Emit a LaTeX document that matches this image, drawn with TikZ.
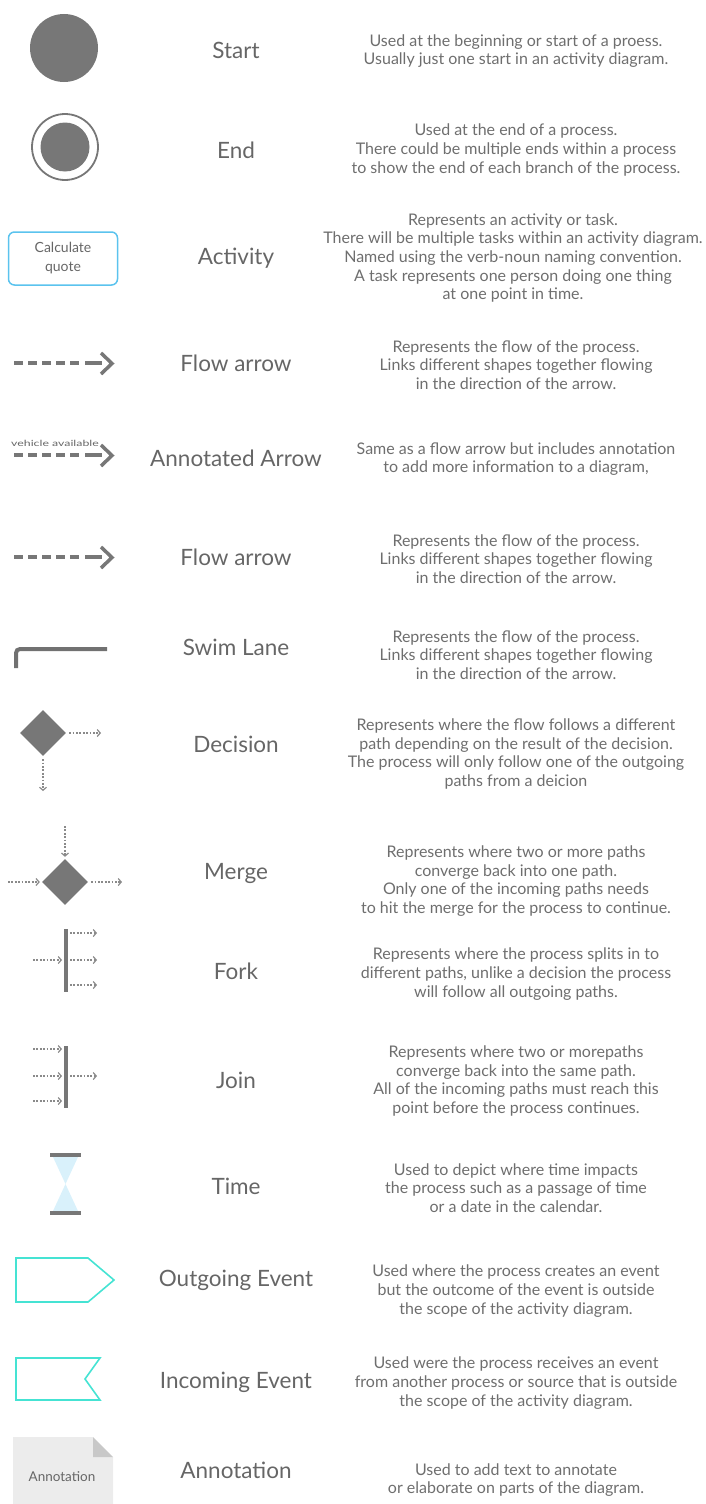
\documentclass[tikz,border=0pt]{standalone}
\usepackage{fontspec}
\usepackage{graphicx}
\setmainfont{Lato}
\usetikzlibrary{arrows.meta,shapes.geometric}
\definecolor{ink}{HTML}{777777}
\definecolor{dots}{HTML}{8A8A8A}
\definecolor{txt}{HTML}{666666}
\definecolor{dtxt}{HTML}{6E6E6E}
\definecolor{actblue}{HTML}{5BC3EE}
\definecolor{evt}{HTML}{45E3D3}
\definecolor{sand}{HTML}{D9F1FB}
\definecolor{annfill}{HTML}{ECECEC}
\definecolor{annfold}{HTML}{C8C8C8}
\begin{document}
\begin{tikzpicture}[x=1pt,y=-1pt,
  lbl/.style={font=\fontsize{22.5}{26}\selectfont, text=txt, anchor=center, inner sep=0pt},
  dsc/.style={font=\fontsize{16}{18.7}\selectfont, text=dtxt, align=center, anchor=center, inner sep=0pt},
  dashline/.style={draw=ink, line width=4pt, dash pattern=on 9pt off 5pt},
  chevron/.style={draw=ink, line width=3.5pt, line join=miter},
  dotarr/.style={draw=dots, line width=1.5pt, dash pattern=on 1.8pt off 1.6pt,
     -{Straight Barb[length=3pt,width=7pt,line width=1.2pt]}},
  bar/.style={fill=ink, draw=none, minimum width=3.6pt, inner sep=0pt},
  dia/.style={diamond, fill=ink, draw=none, minimum width=46pt, minimum height=46pt, inner sep=0pt},
  evtline/.style={draw=evt, line width=1.6pt}
]
\useasboundingbox (0,0) rectangle (705,1504);

% ---------- labels ----------
\node[lbl] (lStart) at (236,50) {Start};
\node[lbl] (lEnd) at (236,150) {End};
\node[lbl] (lAct) at (236,258) {Activity};
\node[lbl] (lFlow1) at (236,363) {Flow arrow};
\node[lbl] (lAnn) at (236,458) {Annotated Arrow};
\node[lbl] (lFlow2) at (236,557) {Flow arrow};
\node[lbl] (lSwim) at (236,647) {Swim Lane};
\node[lbl] (lDec) at (236,744) {Decision};
\node[lbl] (lMerge) at (236,873) {Merge};
\node[lbl] (lFork) at (236,971) {Fork};
\node[lbl] (lJoin) at (236,1080) {Join};
\node[lbl] (lTime) at (236,1186) {Time};
\node[lbl] (lOut) at (236,1280) {Outgoing Event};
\node[lbl] (lIn) at (236,1382) {Incoming Event};
\node[lbl] (lNote) at (236,1470) {Annotation};

% ---------- descriptions ----------
\node[dsc] (dStart) at (516,51) {Used at the beginning or start of a proess.\\Usually just one start in an activity diagram.};
\node[dsc] (dEnd) at (516,150) {Used at the end of a process.\\There could be multiple ends within a process\\to show the end of each branch of the process.};
\node[dsc] (dAct) at (513,258) {Represents an activity or task.\\There will be multiple tasks within an activity diagram.\\Named using the verb-noun naming convention.\\A task represents one person doing one thing\\at one point in time.};
\node[dsc] (dFlow1) at (516,365) {Represents the flow of the process.\\Links different shapes together flowing\\in the direction of the arrow.};
\node[dsc] (dAnn) at (516,459) {Same as a flow arrow but includes annotation\\to add more information to a diagram,};
\node[dsc] (dFlow2) at (516,559) {Represents the flow of the process.\\Links different shapes together flowing\\in the direction of the arrow.};
\node[dsc] (dSwim) at (516,655) {Represents the flow of the process.\\Links different shapes together flowing\\in the direction of the arrow.};
\node[dsc] (dDec) at (516,754) {Represents where the flow follows a different\\path depending on the result of the decision.\\The process will only follow one of the outgoing\\paths from a deicion};
\node[dsc] (dMerge) at (516,881) {Represents where two or more paths\\converge back into one path.\\Only one of the incoming paths needs\\to hit the merge for the process to continue.};
\node[dsc] (dFork) at (516,974) {Represents where the process splits in to\\different paths, unlike a decision the process\\will follow all outgoing paths.};
\node[dsc] (dJoin) at (516,1081) {Represents where two or morepaths\\converge back into the same path.\\All of the incoming paths must reach this\\point before the process continues.};
\node[dsc] (dTime) at (516,1188) {Used to depict where time impacts\\the process such as a passage of time\\or a date in the calendar.};
\node[dsc] (dOut) at (516,1291) {Used where the process creates an event\\but the outcome of the event is outside\\the scope of the activity diagram.};
\node[dsc] (dIn) at (516,1383) {Used were the process receives an event\\from another process or source that is outside\\the scope of the activity diagram.};
\node[dsc] (dNote) at (516,1480) {Used to add text to annotate\\or elaborate on parts of the diagram.};

% ---------- Start ----------
\node[circle, fill=ink, minimum size=68pt, inner sep=0pt] (start) at (64,48) {};

% ---------- End ----------
\node[circle, draw=ink, line width=1.8pt, minimum size=66pt, inner sep=0pt] (endo) at (65,147) {};
\node[circle, fill=ink, minimum size=49pt, inner sep=0pt] (endi) at (65,147) {};

% ---------- Activity ----------
\node[draw=actblue, line width=1.5pt, rounded corners=6pt, minimum width=109pt, minimum height=53pt,
  align=center, text=txt, font=\fontsize{14}{19}\selectfont, inner sep=0pt] (act) at (63,258.5) {Calculate\\quote};

% ---------- Flow arrow 1 ----------
\coordinate (f1a) at (14,363); \coordinate (f1b) at (80,363);
\coordinate (f1c) at (85,363); \coordinate (f1d) at (102,363);
\draw[dashline] (f1a) -- (f1b);
\draw[draw=ink, line width=4pt] (f1c) -- (f1d);
\draw[chevron] (101,353) -- (112,363.5) -- (101,374);

% ---------- Annotated arrow ----------
\node[text=txt, inner sep=0pt] (vav) at (55,443) {\scalebox{1.45}[1]{\fontsize{8.5}{10}\selectfont vehicle available}};
\coordinate (f2a) at (14,455); \coordinate (f2b) at (80,455);
\coordinate (f2c) at (85,455); \coordinate (f2d) at (102,455);
\draw[dashline] (f2a) -- (f2b);
\draw[draw=ink, line width=4pt] (f2c) -- (f2d);
\draw[chevron] (101,445) -- (112,455.5) -- (101,466);

% ---------- Flow arrow 2 ----------
\coordinate (f3a) at (14,557); \coordinate (f3b) at (80,557);
\coordinate (f3c) at (85,557); \coordinate (f3d) at (102,557);
\draw[dashline] (f3a) -- (f3b);
\draw[draw=ink, line width=4pt] (f3c) -- (f3d);
\draw[chevron] (101,547) -- (112,557.5) -- (101,568);

% ---------- Swim lane ----------
\coordinate (sw1) at (16,668); \coordinate (sw2) at (16,649); \coordinate (sw3) at (107,649);
\draw[draw=ink!95!black, line width=4pt, rounded corners=4pt] (sw1) -- (sw2) -- (sw3);

% ---------- Decision ----------
\node[dia] (dec) at (43,733) {};
\coordinate (decR) at (101,733); \coordinate (decD) at (43,791);
\draw[dotarr] ([xshift=3pt]dec.east) -- (decR);
\draw[dotarr] ([yshift=-3pt]dec.south) -- (decD);

% ---------- Merge ----------
\node[dia] (mrg) at (65,882) {};
\coordinate (mT) at (65,826); \coordinate (mL) at (8,882); \coordinate (mR) at (122,882);
\draw[dotarr] (mT) -- ([yshift=2pt]mrg.north);
\draw[dotarr] (mL) -- ([xshift=-2pt]mrg.west);
\draw[dotarr] ([xshift=3pt]mrg.east) -- (mR);

% ---------- Fork ----------
\node[bar, minimum height=63pt] (fork) at (66,960.5) {};
\coordinate (fkIn) at (33,960);
\coordinate (fk1) at (97,933); \coordinate (fk2) at (97,960); \coordinate (fk3) at (97,985);
\draw[dotarr] (fkIn) -- ([xshift=-2pt]fork.west |- fkIn);
\draw[dotarr] ([xshift=2pt]fork.east |- fk1) -- (fk1);
\draw[dotarr] ([xshift=2pt]fork.east |- fk2) -- (fk2);
\draw[dotarr] ([xshift=2pt]fork.east |- fk3) -- (fk3);

% ---------- Join ----------
\node[bar, minimum height=62pt] (join) at (66,1077) {};
\coordinate (jn1) at (33,1049); \coordinate (jn2) at (33,1076); \coordinate (jn3) at (33,1101);
\coordinate (jnOut) at (97,1076);
\draw[dotarr] (jn1) -- ([xshift=-2pt]join.west |- jn1);
\draw[dotarr] (jn2) -- ([xshift=-2pt]join.west |- jn2);
\draw[dotarr] (jn3) -- ([xshift=-2pt]join.west |- jn3);
\draw[dotarr] ([xshift=2pt]join.east |- jnOut) -- (jnOut);

% ---------- Time ----------
\fill[sand] (53,1157) -- (78,1157) -- (65.5,1184) -- cycle;
\fill[sand] (65.5,1184) -- (78,1211) -- (53,1211) -- cycle;
\node[fill=ink, minimum width=31pt, minimum height=4pt, inner sep=0pt] (tTop) at (65.5,1155) {};
\node[fill=ink, minimum width=31pt, minimum height=4pt, inner sep=0pt] (tBot) at (65.5,1213) {};

% ---------- Outgoing event ----------
\draw[evtline, line join=miter] (16,1258) -- (88,1258) -- (114,1280) -- (88,1302) -- (16,1302) -- cycle;

% ---------- Incoming event ----------
\draw[evtline, line join=miter] (16,1358) -- (100,1358) -- (85,1379) -- (100,1400) -- (16,1400) -- cycle;

% ---------- Annotation ----------
\fill[annfill] (13,1437) -- (93,1437) -- (113,1457) -- (113,1504) -- (13,1504) -- cycle;
\fill[annfold] (93,1437) -- (113,1457) -- (93,1457) -- cycle;
\node[font=\fontsize{13.5}{16}\selectfont, text=txt, inner sep=0pt] (noteTxt) at (62,1477) {Annotation};

\end{tikzpicture}
\end{document}
